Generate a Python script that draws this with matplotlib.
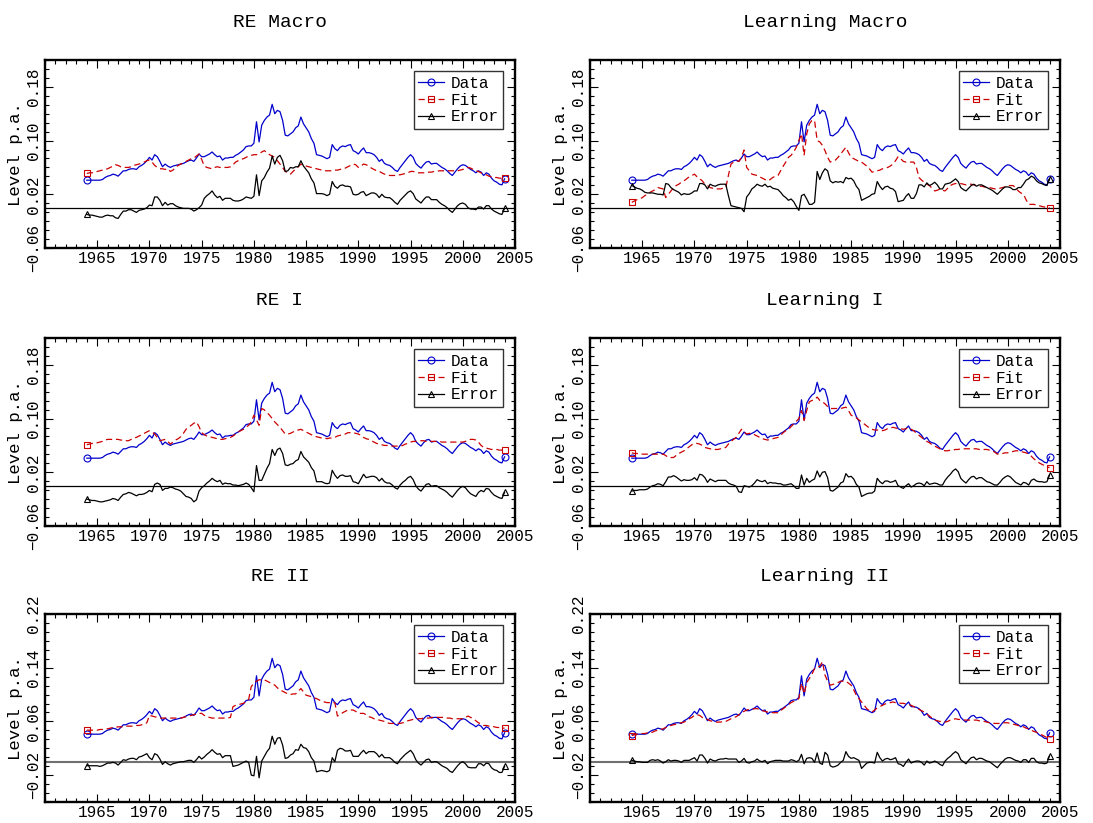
import numpy as np
import matplotlib
matplotlib.use("Agg")
import matplotlib.pyplot as plt
from matplotlib.ticker import FixedLocator, MultipleLocator
from matplotlib.legend_handler import HandlerLine2D

plt.rcParams['font.family'] = ['Liberation Mono', 'DejaVu Sans Mono']
plt.rcParams['axes.unicode_minus'] = True

# quarterly observations 1964:1 - 2004:1
years = np.arange(1964, 2004.01, 0.25)

data = [
    0.041, 0.041, 0.041, 0.041,  0.041, 0.041, 0.042, 0.045,
    0.047, 0.048, 0.050, 0.049,  0.047, 0.051, 0.055, 0.055,
    0.057, 0.058, 0.058, 0.057,  0.061, 0.063, 0.066, 0.070,
    0.075, 0.071, 0.079, 0.076,  0.069, 0.061, 0.065, 0.062,
    0.060, 0.062, 0.063, 0.064,  0.065, 0.066, 0.068, 0.070,
    0.071, 0.069, 0.074, 0.080,  0.076, 0.076, 0.078, 0.080,
    0.083, 0.079, 0.076, 0.077,  0.071, 0.074, 0.074, 0.075,
    0.075, 0.078, 0.080, 0.083,  0.086, 0.091, 0.092, 0.092,
    0.096, 0.128, 0.098, 0.123,  0.130, 0.135, 0.138, 0.154,
    0.140, 0.145, 0.143, 0.130,  0.108, 0.107, 0.110, 0.113,
    0.119, 0.122, 0.135, 0.125,  0.119, 0.113, 0.103, 0.096,
    0.079, 0.078, 0.077, 0.075,  0.073, 0.075, 0.094, 0.088,
    0.085, 0.090, 0.092, 0.091,  0.093, 0.094, 0.085, 0.083,
    0.080, 0.085, 0.089, 0.082,  0.082, 0.081, 0.079, 0.075,
    0.069, 0.072, 0.066, 0.064,  0.063, 0.060, 0.056, 0.054,
    0.060, 0.065, 0.070, 0.075,  0.079, 0.075, 0.066, 0.062,
    0.059, 0.064, 0.068, 0.069,  0.065, 0.066, 0.066, 0.063,
    0.060, 0.058, 0.055, 0.051,  0.048, 0.053, 0.058, 0.062,
    0.064, 0.063, 0.060, 0.057,  0.055, 0.052, 0.055, 0.053,
    0.048, 0.052, 0.050, 0.044,  0.040, 0.038, 0.035, 0.034,
    0.043,
]

fit_re_macro = [
    0.051, 0.052, 0.052, 0.053,  0.054, 0.055, 0.056, 0.057,
    0.058, 0.060, 0.062, 0.064,  0.063, 0.061, 0.060, 0.060,
    0.060, 0.061, 0.063, 0.064,  0.065, 0.066, 0.068, 0.070,
    0.071, 0.068, 0.063, 0.060,  0.058, 0.058, 0.057, 0.058,
    0.054, 0.056, 0.060, 0.063,  0.065, 0.067, 0.069, 0.071,
    0.073, 0.074, 0.077, 0.080,  0.072, 0.062, 0.060, 0.059,
    0.058, 0.060, 0.061, 0.060,  0.060, 0.060, 0.060, 0.061,
    0.064, 0.068, 0.070, 0.072,  0.073, 0.075, 0.077, 0.078,
    0.079, 0.079, 0.080, 0.083,  0.085, 0.082, 0.079, 0.077,
    0.075, 0.070, 0.065, 0.060,  0.054, 0.052, 0.050, 0.054,
    0.058, 0.061, 0.065, 0.063,  0.062, 0.061, 0.060, 0.059,
    0.058, 0.057, 0.056, 0.055,  0.055, 0.055, 0.055, 0.056,
    0.056, 0.057, 0.058, 0.059,  0.061, 0.063, 0.065, 0.064,
    0.060, 0.062, 0.065, 0.064,  0.062, 0.059, 0.057, 0.055,
    0.054, 0.052, 0.050, 0.049,  0.048, 0.048, 0.048, 0.049,
    0.049, 0.050, 0.051, 0.052,  0.054, 0.054, 0.053, 0.052,
    0.052, 0.052, 0.052, 0.053,  0.053, 0.054, 0.054, 0.055,
    0.055, 0.055, 0.055, 0.055,  0.055, 0.055, 0.055, 0.056,
    0.057, 0.058, 0.060, 0.059,  0.057, 0.055, 0.054, 0.052,
    0.050, 0.049, 0.047, 0.046,  0.045, 0.045, 0.044, 0.044,
    0.044,
]

fit_learn_macro = [
    0.008, 0.010, 0.012, 0.013,  0.015, 0.018, 0.020, 0.023,
    0.025, 0.027, 0.030, 0.029,  0.028, 0.015, 0.020, 0.025,
    0.030, 0.033, 0.035, 0.038,  0.040, 0.043, 0.046, 0.048,
    0.050, 0.046, 0.043, 0.040,  0.035, 0.033, 0.030, 0.029,
    0.028, 0.028, 0.028, 0.029,  0.030, 0.048, 0.065, 0.068,
    0.070, 0.069, 0.075, 0.086,  0.060, 0.055, 0.050, 0.049,
    0.048, 0.046, 0.044, 0.042,  0.040, 0.042, 0.045, 0.047,
    0.048, 0.055, 0.062, 0.068,  0.075, 0.078, 0.083, 0.090,
    0.100, 0.110, 0.078, 0.110,  0.125, 0.130, 0.130, 0.100,
    0.098, 0.093, 0.085, 0.075,  0.068, 0.070, 0.071, 0.075,
    0.080, 0.085, 0.090, 0.082,  0.075, 0.073, 0.071, 0.069,
    0.068, 0.065, 0.062, 0.058,  0.053, 0.054, 0.055, 0.056,
    0.058, 0.059, 0.060, 0.062,  0.065, 0.070, 0.076, 0.073,
    0.069, 0.068, 0.068, 0.068,  0.068, 0.060, 0.045, 0.041,
    0.038, 0.035, 0.033, 0.029,  0.025, 0.026, 0.028, 0.026,
    0.025, 0.029, 0.033, 0.035,  0.036, 0.036, 0.036, 0.035,
    0.034, 0.035, 0.035, 0.034,  0.033, 0.032, 0.032, 0.031,
    0.030, 0.030, 0.029, 0.028,  0.028, 0.029, 0.030, 0.031,
    0.033, 0.033, 0.033, 0.030,  0.025, 0.022, 0.020, 0.012,
    0.005, 0.005, 0.005, 0.004,  0.003, 0.002, 0.001, 0.001,
    0.000,
]

fit_re_1 = [
    0.061, 0.062, 0.063, 0.063,  0.064, 0.065, 0.066, 0.068,
    0.069, 0.069, 0.069, 0.069,  0.069, 0.068, 0.068, 0.067,
    0.067, 0.069, 0.071, 0.072,  0.074, 0.076, 0.078, 0.080,
    0.082, 0.080, 0.077, 0.072,  0.067, 0.068, 0.069, 0.066,
    0.062, 0.065, 0.068, 0.070,  0.073, 0.078, 0.084, 0.087,
    0.090, 0.093, 0.095, 0.088,  0.079, 0.076, 0.074, 0.073,
    0.072, 0.071, 0.070, 0.069,  0.069, 0.070, 0.071, 0.072,
    0.074, 0.077, 0.080, 0.082,  0.084, 0.087, 0.090, 0.095,
    0.105, 0.098, 0.090, 0.115,  0.113, 0.109, 0.105, 0.100,
    0.095, 0.091, 0.087, 0.082,  0.077, 0.077, 0.078, 0.080,
    0.082, 0.083, 0.084, 0.082,  0.080, 0.078, 0.076, 0.074,
    0.073, 0.072, 0.071, 0.071,  0.070, 0.071, 0.071, 0.072,
    0.074, 0.075, 0.076, 0.077,  0.079, 0.079, 0.079, 0.078,
    0.077, 0.075, 0.072, 0.070,  0.069, 0.067, 0.065, 0.063,
    0.062, 0.061, 0.060, 0.060,  0.059, 0.059, 0.059, 0.059,
    0.059, 0.060, 0.062, 0.063,  0.065, 0.066, 0.066, 0.067,
    0.067, 0.067, 0.066, 0.066,  0.066, 0.066, 0.066, 0.066,
    0.065, 0.065, 0.065, 0.065,  0.065, 0.065, 0.065, 0.065,
    0.065, 0.066, 0.068, 0.069,  0.069, 0.068, 0.065, 0.060,
    0.057, 0.056, 0.055, 0.054,  0.054, 0.054, 0.053, 0.053,
    0.053,
]

fit_learn_1 = [
    0.049, 0.048, 0.048, 0.047,  0.047, 0.047, 0.047, 0.047,
    0.047, 0.047, 0.047, 0.047,  0.047, 0.045, 0.042, 0.042,
    0.042, 0.045, 0.048, 0.050,  0.052, 0.055, 0.058, 0.061,
    0.063, 0.063, 0.062, 0.060,  0.057, 0.056, 0.055, 0.054,
    0.054, 0.054, 0.055, 0.056,  0.057, 0.062, 0.066, 0.069,
    0.072, 0.078, 0.084, 0.080,  0.077, 0.078, 0.078, 0.076,
    0.074, 0.072, 0.070, 0.069,  0.068, 0.069, 0.070, 0.071,
    0.072, 0.075, 0.079, 0.082,  0.084, 0.088, 0.092, 0.096,
    0.100, 0.112, 0.097, 0.112,  0.125, 0.127, 0.128, 0.132,
    0.127, 0.125, 0.122, 0.118,  0.115, 0.115, 0.115, 0.115,
    0.115, 0.116, 0.117, 0.112,  0.105, 0.103, 0.101, 0.098,
    0.095, 0.092, 0.089, 0.086,  0.084, 0.083, 0.083, 0.082,
    0.082, 0.083, 0.085, 0.086,  0.087, 0.086, 0.085, 0.085,
    0.084, 0.085, 0.086, 0.084,  0.082, 0.078, 0.075, 0.072,
    0.069, 0.066, 0.064, 0.061,  0.059, 0.057, 0.055, 0.053,
    0.052, 0.052, 0.053, 0.053,  0.054, 0.054, 0.055, 0.055,
    0.055, 0.055, 0.055, 0.055,  0.055, 0.054, 0.054, 0.054,
    0.054, 0.053, 0.052, 0.050,  0.047, 0.048, 0.048, 0.049,
    0.049, 0.050, 0.051, 0.052,  0.052, 0.051, 0.050, 0.049,
    0.047, 0.044, 0.040, 0.037,  0.034, 0.032, 0.030, 0.028,
    0.027,
]

fit_re_2 = [
    0.047, 0.047, 0.047, 0.047,  0.047, 0.048, 0.048, 0.049,
    0.049, 0.050, 0.051, 0.051,  0.052, 0.052, 0.052, 0.053,
    0.053, 0.053, 0.053, 0.054,  0.054, 0.055, 0.056, 0.058,
    0.069, 0.068, 0.067, 0.066,  0.065, 0.065, 0.065, 0.065,
    0.065, 0.065, 0.065, 0.065,  0.065, 0.066, 0.067, 0.068,
    0.069, 0.070, 0.071, 0.072,  0.072, 0.069, 0.067, 0.066,
    0.065, 0.065, 0.065, 0.065,  0.065, 0.065, 0.065, 0.066,
    0.082, 0.084, 0.085, 0.086,  0.087, 0.090, 0.093, 0.112,
    0.117, 0.120, 0.122, 0.122,  0.122, 0.120, 0.118, 0.116,
    0.114, 0.110, 0.107, 0.105,  0.103, 0.101, 0.100, 0.101,
    0.101, 0.105, 0.109, 0.104,  0.099, 0.098, 0.097, 0.095,
    0.094, 0.092, 0.090, 0.089,  0.088, 0.088, 0.088, 0.088,
    0.068, 0.070, 0.073, 0.075,  0.077, 0.077, 0.077, 0.075,
    0.072, 0.072, 0.072, 0.070,  0.067, 0.066, 0.064, 0.063,
    0.062, 0.061, 0.060, 0.058,  0.057, 0.057, 0.057, 0.057,
    0.057, 0.058, 0.059, 0.061,  0.062, 0.063, 0.063, 0.064,
    0.064, 0.065, 0.065, 0.065,  0.066, 0.066, 0.066, 0.066,
    0.066, 0.066, 0.065, 0.065,  0.064, 0.064, 0.064, 0.064,
    0.064, 0.066, 0.068, 0.066,  0.064, 0.061, 0.058, 0.056,
    0.054, 0.054, 0.053, 0.053,  0.052, 0.051, 0.051, 0.050,
    0.050,
]

fit_learn_2 = [
    0.039, 0.040, 0.041, 0.041,  0.042, 0.042, 0.043, 0.043,
    0.044, 0.046, 0.047, 0.048,  0.049, 0.051, 0.052, 0.054,
    0.055, 0.056, 0.057, 0.058,  0.059, 0.061, 0.064, 0.066,
    0.069, 0.070, 0.069, 0.066,  0.064, 0.063, 0.061, 0.060,
    0.059, 0.059, 0.059, 0.060,  0.060, 0.062, 0.064, 0.066,
    0.067, 0.070, 0.073, 0.075,  0.077, 0.078, 0.078, 0.079,
    0.079, 0.078, 0.076, 0.075,  0.074, 0.074, 0.073, 0.073,
    0.073, 0.076, 0.079, 0.082,  0.085, 0.088, 0.090, 0.092,
    0.094, 0.117, 0.101, 0.118,  0.124, 0.130, 0.139, 0.141,
    0.142, 0.149, 0.129, 0.120,  0.114, 0.115, 0.117, 0.118,
    0.120, 0.120, 0.120, 0.117,  0.114, 0.107, 0.099, 0.094,
    0.089, 0.084, 0.079, 0.076,  0.074, 0.077, 0.080, 0.082,
    0.084, 0.086, 0.087, 0.088,  0.089, 0.088, 0.088, 0.087,
    0.087, 0.086, 0.085, 0.084,  0.082, 0.080, 0.078, 0.076,
    0.074, 0.071, 0.068, 0.065,  0.062, 0.061, 0.060, 0.060,
    0.059, 0.060, 0.062, 0.063,  0.064, 0.063, 0.063, 0.062,
    0.062, 0.062, 0.062, 0.062,  0.062, 0.061, 0.061, 0.060,
    0.059, 0.058, 0.058, 0.057,  0.057, 0.057, 0.058, 0.058,
    0.058, 0.057, 0.056, 0.055,  0.054, 0.053, 0.052, 0.050,
    0.049, 0.047, 0.045, 0.044,  0.042, 0.040, 0.038, 0.036,
    0.034,
]

titles = ["RE Macro", "Learning Macro", "RE I", "Learning I", "RE II", "Learning II"]
fits = [fit_re_macro, fit_learn_macro, fit_re_1, fit_learn_1, fit_re_2, fit_learn_2]
labels_top = [-0.06, 0.02, 0.10, 0.18]
labels_bottom = [-0.02, 0.06, 0.14, 0.22]


class LeftMarkerHandler(HandlerLine2D):
    # put the legend marker at the start of the sample line
    def get_xdata(self, legend, xdescent, ydescent, width, height, fontsize):
        xdata, _ = super().get_xdata(legend, xdescent, ydescent, width, height, fontsize)
        return xdata, [xdata[0] + 0.08 * width]


W, H = 1093, 823
fig = plt.figure(figsize=(W / 100, H / 100), dpi=100)

# panel frames in pixels: left, top, width, height
lefts = [45, 590]
tops = [60, 338, 614]
pw, ph = 470, 188

for i, (name, fit) in enumerate(zip(titles, fits)):
    row, col = divmod(i, 2)
    l, t = lefts[col], tops[row]
    ax = fig.add_axes([l / W, 1 - (t + ph) / H, pw / W, ph / H])

    d = np.array(data)
    f = np.array(fit)
    err = d - f

    zcol = 'k' if row < 2 else '#707070'
    zlw = 0.9 if row < 2 else 1.5
    ax.axhline(0, color=zcol, lw=zlw, zorder=1)

    ax.plot(years, d, color='#0000cc', lw=0.9, marker='o', ms=5, mfc='none',
            mew=0.8, markevery=[0, -1], label='Data', zorder=3)
    ax.plot(years, f, color='#cc0000', lw=0.9, dashes=(5, 3), marker='s', ms=5,
            mfc='none', mew=0.8, markevery=[0, -1], label='Fit', zorder=3)
    ax.plot(years, err, color='k', lw=0.9, marker='^', ms=5, mfc='none',
            mew=0.8, markevery=[0, -1], label='Error', zorder=3)

    ax.set_xlim(1960, 2005)
    ax.set_ylim(-0.06, 0.22)

    ax.xaxis.set_major_locator(FixedLocator(np.arange(1965, 2006, 5)))
    ax.xaxis.set_minor_locator(MultipleLocator(1))
    yt = labels_top if row < 2 else labels_bottom
    ax.set_yticks(yt)
    ax.set_yticklabels(["%.2f" % v if v >= 0 else "\u2212%.2f" % -v for v in yt])
    ax.yaxis.set_minor_locator(FixedLocator(-0.06 + np.arange(22) * 0.08 / 6))

    ax.tick_params(which='both', direction='in', top=True, right=True, width=0.8)
    ax.tick_params(which='major', length=6, labelsize=11.5)
    ax.tick_params(which='minor', length=3)
    ax.tick_params(axis='x', pad=2)
    ax.tick_params(axis='y', pad=3, labelrotation=90)
    for lab in ax.get_yticklabels():
        lab.set_va('center')

    for sp in ax.spines.values():
        sp.set_linewidth(1.7)

    ax.set_ylabel("Level p.a.", fontsize=12.5, labelpad=2)
    ax.set_title(name, fontsize=14, pad=24)

    leg = ax.legend(loc='upper right', bbox_to_anchor=(0.975, 0.94),
                    borderaxespad=0, fontsize=11.5, frameon=True, fancybox=False,
                    handlelength=1.6, handletextpad=0.4, labelspacing=0.1,
                    borderpad=0.3, handler_map={plt.Line2D: LeftMarkerHandler(numpoints=1)})
    leg.get_frame().set_edgecolor('k')
    leg.get_frame().set_linewidth(1.0)

fig.savefig("out.png", dpi=100)
